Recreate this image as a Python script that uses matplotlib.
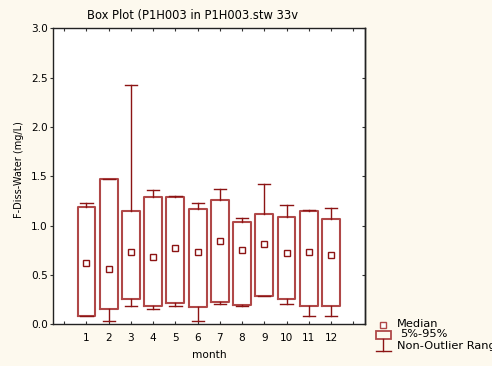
import matplotlib
matplotlib.use("Agg")
import matplotlib.pyplot as plt
from matplotlib.lines import Line2D
from matplotlib.patches import Rectangle

plt.rcParams['font.family'] = ['DejaVu Sans']

# monthly fluoride summary: median, 5%/95% box, non-outlier range
months = [1, 2, 3, 4, 5, 6, 7, 8, 9, 10, 11, 12]
median = [0.62, 0.56, 0.735, 0.68, 0.77, 0.735, 0.85, 0.755, 0.81, 0.72, 0.735, 0.70]
p05 = [0.09, 0.16, 0.255, 0.19, 0.22, 0.18, 0.225, 0.195, 0.29, 0.26, 0.19, 0.185]
p95 = [1.19, 1.47, 1.15, 1.29, 1.29, 1.17, 1.26, 1.04, 1.12, 1.09, 1.15, 1.07]
low = [0.09, 0.04, 0.19, 0.16, 0.19, 0.04, 0.21, 0.19, 0.29, 0.21, 0.086, 0.086]
high = [1.23, 1.47, 2.42, 1.36, 1.30, 1.23, 1.376, 1.08, 1.42, 1.21, 1.16, 1.18]

box_col = '#b04848'
whisk_col = '#8c1414'
bg = '#fdf9ee'
fs = 7.6

fig = plt.figure(figsize=(4.92, 3.66), dpi=100, facecolor=bg)
ax = fig.add_axes([0.107, 0.1135, 0.635, 0.8095])
ax.set_facecolor('white')

stats = []
for i in range(len(months)):
    stats.append(dict(med=median[i], q1=p05[i], q3=p95[i],
                      whislo=low[i], whishi=high[i], mean=median[i]))

ax.bxp(stats, positions=months, widths=0.8, showmeans=True, showfliers=False,
       boxprops=dict(color=box_col, linewidth=1.5),
       whiskerprops=dict(color=whisk_col, linewidth=1.0),
       capprops=dict(color=whisk_col, linewidth=1.0),
       capwidths=0.55,
       medianprops=dict(visible=False),
       meanprops=dict(marker='s', markersize=5, markerfacecolor='white',
                      markeredgecolor=whisk_col, markeredgewidth=1.0))

ax.set_xlim(-0.52, 13.53)
ax.set_ylim(0, 3.0)
ax.set_xticks(range(0, 14))
ax.set_xticklabels([''] + [str(m) for m in months] + [''])
ax.set_yticks([0, 0.5, 1.0, 1.5, 2.0, 2.5, 3.0])
ax.set_yticklabels(['0.0', '0.5', '1.0', '1.5', '2.0', '2.5', '3.0'])

ax.tick_params(axis='x', direction='in', length=2.5, width=0.8, top=True,
               labelsize=fs, pad=6, color='#333333')
ax.tick_params(axis='y', direction='out', length=2.5, width=0.8,
               labelsize=fs, pad=1, color='#333333')
ax2 = ax.secondary_yaxis('right')
ax2.set_yticks([0, 0.5, 1.0, 1.5, 2.0, 2.5, 3.0])
ax2.tick_params(direction='in', length=2.5, width=0.8, labelright=False, color='#333333')
for s in ax.spines.values():
    s.set_linewidth(1.0)
    s.set_color('#222222')
ax2.spines['right'].set_linewidth(1.0)

ax.set_xlabel('month', fontsize=fs, labelpad=5)
ax.set_ylabel('F-Diss-Water (mg/L)', fontsize=7.0, va='center')
ax.yaxis.set_label_coords(-0.108, 0.524)

fig.text(87 / 492, 1 - 15 / 366, 'Box Plot (P1H003 in P1H003.stw 33v',
         fontsize=8.3, ha='left', va='center')

# legend glyphs drawn in figure pixels
W, H = 492, 366
def fx(x):
    return x / W
def fy(y):
    return 1 - y / H

fig.add_artist(Line2D([fx(383.3)], [fy(324.5)], marker='s', markersize=4.5,
                      markerfacecolor='white', markeredgecolor=box_col,
                      markeredgewidth=1.0, transform=fig.transFigure))
fig.add_artist(Rectangle((fx(376), fy(338.7)), fx(15), 7.7 / H, fill=False,
                         edgecolor=box_col, linewidth=1.3, transform=fig.transFigure))
fig.add_artist(Line2D([fx(383.3), fx(383.3)], [fy(338.7), fy(351)], color=whisk_col,
                      linewidth=1.0, transform=fig.transFigure))
fig.add_artist(Line2D([fx(376), fx(391)], [fy(351), fy(351)], color=whisk_col,
                      linewidth=1.0, transform=fig.transFigure))
fig.text(fx(396.7), fy(323.7), 'Median', fontsize=8.2, va='center', ha='left')
fig.text(fx(400), fy(334.3), '5%-95%', fontsize=8.2, va='center', ha='left')
fig.text(fx(397.3), fy(346), 'Non-Outlier Range', fontsize=8.2, va='center', ha='left')

fig.savefig('out.png', dpi=100, facecolor=bg)
